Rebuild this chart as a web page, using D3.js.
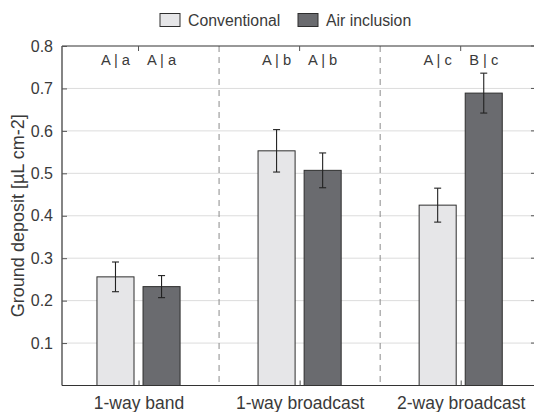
<!DOCTYPE html>
<html><head><meta charset="utf-8">
<script src="https://cdn.jsdelivr.net/npm/d3@7"></script>
<style>body{margin:0;background:#fff}svg{display:block;font-family:"Liberation Sans",Arial,sans-serif}</style>
</head><body><svg id="c" width="534" height="412"></svg>
<script>
const categories = ["1-way band", "1-way broadcast", "2-way broadcast"];
const seriesNames = ["Conventional", "Air inclusion"];
const conventional = [0.256, 0.553, 0.425];
const conventionalErr = [0.035, 0.050, 0.040];
const airInclusion = [0.233, 0.507, 0.689];
const airInclusionErr = [0.026, 0.041, 0.047];
const convLetters = ["A | a", "A | b", "A | c"];
const airLetters = ["A | a", "A | b", "B | c"];
const yTicks = [0.1, 0.2, 0.3, 0.4, 0.5, 0.6, 0.7, 0.8];

const svg = d3.select("#c");
const L = 62, R = 534, T = 46, B = 385.5;
const x = d3.scaleLinear().domain([0.525, 3.455]).range([L, R]);
const y = d3.scaleLinear().domain([0, 0.8]).range([B, T]);
const colors = ["#e6e6e8", "#6a6b6f"];
const off = 0.143, bw = 0.23;
const txt = "#3a3a3a";

svg.append("g").selectAll("line").data(yTicks.filter(d => d < 0.8)).join("line")
  .attr("x1", L).attr("x2", R).attr("y1", d => y(d)).attr("y2", d => y(d))
  .attr("stroke", "#dcdcdc").attr("stroke-width", 1);

svg.append("g").selectAll("line").data([1.5, 2.5]).join("line")
  .attr("x1", d => x(d)).attr("x2", d => x(d)).attr("y1", T).attr("y2", B)
  .attr("stroke", "#8a8a8a").attr("stroke-dasharray", "6,5").attr("stroke-width", 1);

const series = [
  {vals: conventional, err: conventionalErr, o: -off, c: colors[0], letters: convLetters},
  {vals: airInclusion, err: airInclusionErr, o: off, c: colors[1], letters: airLetters}
];
series.forEach(s => {
  const g = svg.append("g");
  g.selectAll("rect").data(s.vals).join("rect")
    .attr("x", (d, i) => x(i + 1 + s.o - bw / 2))
    .attr("width", x(1 + bw) - x(1))
    .attr("y", d => y(d)).attr("height", d => y(0) - y(d))
    .attr("fill", s.c).attr("stroke", "#2e2e2e").attr("stroke-width", 1);
  s.vals.forEach((v, i) => {
    const cx = x(i + 1 + s.o);
    const eg = svg.append("g").attr("stroke", "#222").attr("stroke-width", 1.1);
    eg.append("line").attr("x1", cx).attr("x2", cx).attr("y1", y(v + s.err[i])).attr("y2", y(v - s.err[i]));
    eg.append("line").attr("x1", cx - 3.5).attr("x2", cx + 3.5).attr("y1", y(v + s.err[i])).attr("y2", y(v + s.err[i]));
    eg.append("line").attr("x1", cx - 3.5).attr("x2", cx + 3.5).attr("y1", y(v - s.err[i])).attr("y2", y(v - s.err[i]));
    svg.append("text").attr("x", cx).attr("y", 65).attr("text-anchor", "middle")
      .attr("font-size", 14.7).attr("fill", txt).text(s.letters[i]);
  });
});

const axG = svg.append("g").attr("stroke", "#333").attr("stroke-width", 1.2);
axG.append("line").attr("x1", L).attr("x2", R).attr("y1", B).attr("y2", B);
axG.append("line").attr("x1", L).attr("x2", R).attr("y1", T).attr("y2", T);
axG.append("line").attr("x1", L).attr("x2", L).attr("y1", T).attr("y2", B);

const yAxis = d3.axisLeft(y).tickValues(yTicks).tickSize(-5).tickPadding(9).tickFormat(d3.format(".1f"));
const ya = svg.append("g").attr("transform", `translate(${L},0)`).call(yAxis);
ya.select(".domain").remove();
ya.selectAll(".tick line").attr("stroke", "#555");
ya.selectAll("text").attr("font-size", 16).attr("fill", txt).attr("font-family", "Liberation Sans, Arial, sans-serif");
svg.append("g").selectAll("line").data(yTicks).join("line")
  .attr("x1", R - 3).attr("x2", R).attr("y1", d => y(d)).attr("y2", d => y(d)).attr("stroke", "#555");

const xAxis = d3.axisBottom(x).tickValues([1, 2, 3]).tickSize(-5).tickPadding(11).tickFormat((d, i) => categories[i]);
const xa = svg.append("g").attr("transform", `translate(0,${B})`).call(xAxis);
xa.select(".domain").remove();
xa.selectAll(".tick line").attr("stroke", "#555");
xa.selectAll("text").attr("font-size", 17.5).attr("fill", txt).attr("font-family", "Liberation Sans, Arial, sans-serif");
svg.append("g").selectAll("line").data([1, 2, 3]).join("line")
  .attr("x1", d => x(d)).attr("x2", d => x(d)).attr("y1", T).attr("y2", T + 5).attr("stroke", "#555");

svg.append("text").attr("transform", `translate(24,${(T + B) / 2}) rotate(-90)`)
  .attr("text-anchor", "middle").attr("font-size", 18).attr("fill", txt)
  .text("Ground deposit [µL cm-2]");

const leg = svg.append("g");
const legX = [160, 298];
seriesNames.forEach((n, i) => {
  leg.append("rect").attr("x", legX[i]).attr("y", 13.5).attr("width", 20).attr("height", 13)
    .attr("fill", colors[i]).attr("stroke", "#2e2e2e").attr("stroke-width", 1);
  leg.append("text").attr("x", legX[i] + 28).attr("y", 25.5).attr("font-size", 15.8)
    .attr("fill", txt).text(n);
});
</script></body></html>
